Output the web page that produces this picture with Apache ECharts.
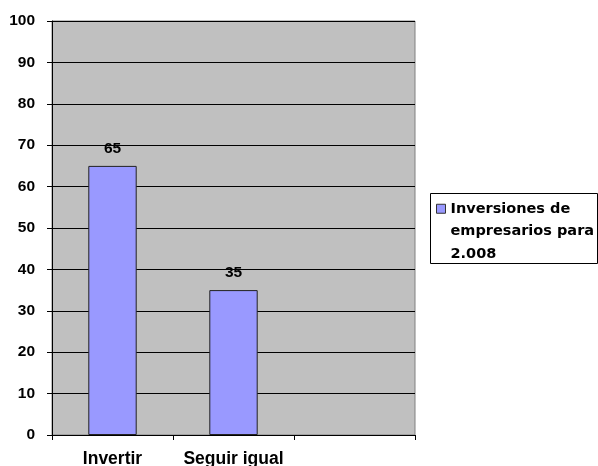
<!DOCTYPE html>
<html>
<head>
<meta charset="utf-8">
<script src="https://cdn.jsdelivr.net/npm/echarts@6/dist/echarts.min.js"></script>
<style>
  html, body { margin: 0; padding: 0; background: #fff; }
  #chart { width: 598px; height: 466px; }
</style>
</head>
<body>
<div id="chart"></div>
<script>
// categories (third slot is empty in the original)
const categories = ['Invertir', 'Seguir igual', '']
const seriesName = 'Inversiones de empresarios para 2.008'
const legendLines = ['Inversiones de', 'empresarios para', '2.008']
const values = [65, 35, null]
const yTicks = [0, 10, 20, 30, 40, 50, 60, 70, 80, 90, 100]

const chart = echarts.init(document.getElementById('chart'))

const arial = 'Liberation Sans, Arial, sans-serif'

const option = {
  animation: false,
  textStyle: {
    fontFamily: arial,
    fontWeight: 'bold',
    color: '#000'
  },
  grid: {
    left: 52,
    right: 183,
    top: 21,
    bottom: 31,
    outerBoundsMode: 'none',
    show: true,
    backgroundColor: '#c0c0c0',
    borderColor: '#808080',
    borderWidth: 1
  },
  legend: {
    data: [seriesName],
    selectedMode: false,
    orient: 'vertical',
    left: 436,
    top: 152.5,
    padding: 0,
    icon: 'rect',
    itemWidth: 9,
    itemHeight: 9,
    // two blank lines on top keep the icon level with the first line
    formatter: () => '\n\n' + legendLines.join('\n'),
    textStyle: {
      fontFamily: 'DejaVu Sans',
      fontWeight: 'bold',
      fontSize: 14.5,
      lineHeight: 22.5,
      color: '#000'
    },
    itemStyle: {
      borderColor: '#333',
      borderWidth: 1
    }
  },
  graphic: [
    {
      type: 'rect',
      z: -1,
      shape: { x: 430.5, y: 193.5, width: 167, height: 70 },
      style: { fill: '#fff', stroke: '#000', lineWidth: 1 }
    }
  ],
  xAxis: {
    type: 'category',
    data: categories,
    boundaryGap: true,
    axisLine: { lineStyle: { color: '#000', width: 1 } },
    axisTick: { show: true, length: 5, lineStyle: { color: '#000' } },
    axisLabel: {
      margin: 15,
      fontFamily: arial,
      fontWeight: 'bold',
      fontSize: 17.5,
      color: '#000',
      interval: 0
    },
    splitLine: { show: false }
  },
  yAxis: {
    type: 'value',
    min: yTicks[0],
    max: yTicks[yTicks.length - 1],
    interval: 10,
    axisLine: { show: true, lineStyle: { color: '#000', width: 1 } },
    axisTick: { show: true, length: 5, lineStyle: { color: '#000' } },
    axisLabel: {
      margin: 17,
      fontFamily: arial,
      fontWeight: 'bold',
      fontSize: 15.5,
      color: '#000'
    },
    splitLine: { show: true, lineStyle: { color: '#000', width: 1 } }
  },
  series: [
    {
      name: seriesName,
      type: 'bar',
      data: values,
      barWidth: '40%',
      itemStyle: {
        color: '#9999ff',
        borderColor: '#222',
        borderWidth: 1
      },
      label: {
        show: true,
        position: 'top',
        distance: 9,
        fontFamily: arial,
        fontWeight: 'bold',
        fontSize: 15.5,
        color: '#000'
      }
    }
  ]
}

chart.setOption(option)
</script>
</body>
</html>
